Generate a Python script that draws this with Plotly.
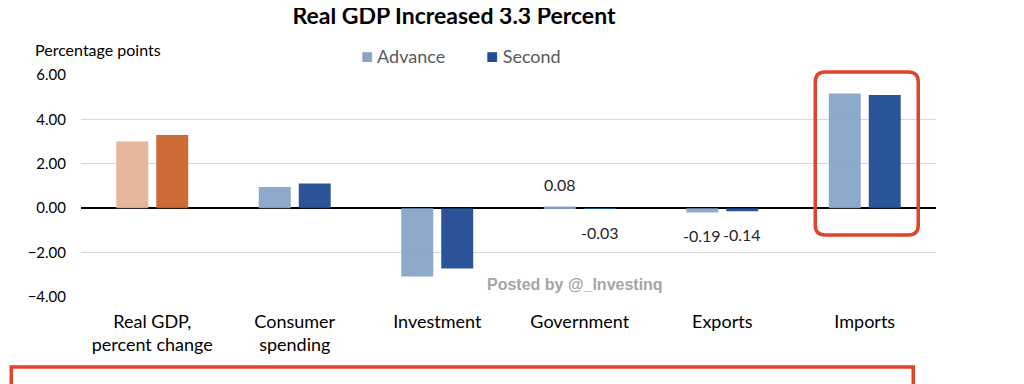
import plotly.graph_objects as go

categories = ["Real GDP,<br>percent change", "Consumer<br>spending", "Investment",
              "Government", "Exports", "Imports"]
advance = [3.00, 0.96, -3.08, 0.08, -0.19, 5.17]
second = [3.30, 1.11, -2.72, -0.03, -0.14, 5.10]
adv_colors = ["#E5B396", "#87A5C9", "#87A5C9", "#87A5C9", "#87A5C9", "#87A5C9"]
sec_colors = ["#C9632B", "#1F4B92", "#1F4B92", "#1F4B92", "#1F4B92", "#1F4B92"]
labelled = ["Government", "Exports"]

OFF = 8  # page body margin
PAGE_W, PAGE_H = 1024, 384
W, H = PAGE_W - OFF, PAGE_H - OFF
L, R, T, B = 80.75, 935.75, 75, 297  # plot area in page pixels

def px(x):
    return (x - L) / (R - L)

def py(y):
    return (B - y) / (B - T)

FONT = "Lato, 'Open Sans', sans-serif"

fig = go.Figure()
fig.add_trace(go.Bar(name="Advance", x=categories, y=advance,
                     marker=dict(color=adv_colors, line=dict(width=0)), opacity=0.95,
                     showlegend=False))
fig.add_trace(go.Bar(name="Second", x=categories, y=second,
                     marker=dict(color=sec_colors, line=dict(width=0)), opacity=0.95,
                     showlegend=False))

annotations = []
for i, cat in enumerate(categories):
    if cat in labelled:
        for val, shift in ((advance[i], -20), (second[i], 20)):
            annotations.append(dict(
                x=cat, y=val, xref="x", yref="y", xshift=shift,
                yshift=10 if val >= 0 else -12,
                yanchor="bottom" if val >= 0 else "top",
                text=f"{val:.2f}", showarrow=False,
                font=dict(family=FONT, size=16, color="#262626")))

annotations.append(dict(xref="paper", yref="paper", x=px(359), y=py(55), xanchor="left",
                        yanchor="middle", showarrow=False,
                        text="<span style='color:#87A5C9;font-size:20px'>■</span> Advance",
                        font=dict(family=FONT, size=18, color="#595959")))
annotations.append(dict(xref="paper", yref="paper", x=px(484), y=py(55), xanchor="left",
                        yanchor="middle", showarrow=False,
                        text="<span style='color:#1F4B92;font-size:20px'>■</span> Second",
                        font=dict(family=FONT, size=18, color="#595959")))
annotations.append(dict(xref="paper", yref="paper", x=px(33), y=py(49), xanchor="left",
                        yanchor="middle", showarrow=False, text="Percentage points",
                        font=dict(family=FONT, size=16, color="#000000")))
annotations.append(dict(xref="paper", yref="paper", x=px(575), y=py(284), xanchor="center",
                        yanchor="middle", showarrow=False, text="<b>Posted by @_Investinq</b>",
                        font=dict(family="Liberation Sans, Arial, sans-serif", size=16,
                                  color="#A6A6A6")))
annotations.append(dict(xref="paper", yref="paper", x=px(23), y=py(380), xanchor="left",
                        yanchor="top", showarrow=False,
                        text="Note: Imports are subtracted in the calculation of GDP, thus a decrease in imports results in positive contribution to GDP.",
                        font=dict(family=FONT, size=15, color="#000000")))

x0, x1, y0, y1, r = px(815), px(918), py(72), py(235), 10
rx, ry = r / (R - L), r / (B - T)
path = (f"M {x0+rx},{y0} L {x1-rx},{y0} Q {x1},{y0} {x1},{y0-ry} "
        f"L {x1},{y1+ry} Q {x1},{y1} {x1-rx},{y1} "
        f"L {x0+rx},{y1} Q {x0},{y1} {x0},{y1+ry} "
        f"L {x0},{y0-ry} Q {x0},{y0} {x0+rx},{y0} Z")
shapes = [
    dict(type="path", xref="paper", yref="paper", path=path,
         line=dict(color="#E0452B", width=3.5), layer="above"),
    dict(type="rect", xref="paper", yref="paper", x0=px(11), x1=px(913), y0=py(367), y1=py(420),
         line=dict(color="#E0452B", width=3.5), layer="above"),
]

fig.update_layout(
    width=W, height=H,
    margin=dict(l=L - OFF, r=PAGE_W - R, t=T - OFF, b=PAGE_H - B, autoexpand=False),
    paper_bgcolor="white", plot_bgcolor="white",
    barmode="group", bargap=0.439, bargroupgap=0.2,
    title=dict(text="<b>Real GDP Increased 3.3 Percent</b>", x=(454 - OFF) / W, xanchor="center",
               y=1, yanchor="top", yref="container", pad=dict(t=0, b=0),
               font=dict(family=FONT, size=23, color="#000000")),
    font=dict(family=FONT, size=15, color="#000000"),
    annotations=annotations, shapes=shapes,
)
fig.update_yaxes(range=[-4, 6], dtick=2, tickformat=".2f", showgrid=True,
                 gridcolor="#D9D9D9", gridwidth=1, zeroline=True, zerolinecolor="#000000",
                 zerolinewidth=1.5, showline=False, ticks="", ticklabelstandoff=14,
                 tickfont=dict(family=FONT, size=15, color="#000000"))
fig.update_xaxes(showgrid=False, showline=False, ticks="", ticklabelstandoff=12,
                 tickfont=dict(family=FONT, size=18, color="#000000"))

fig.write_html("out.html")
